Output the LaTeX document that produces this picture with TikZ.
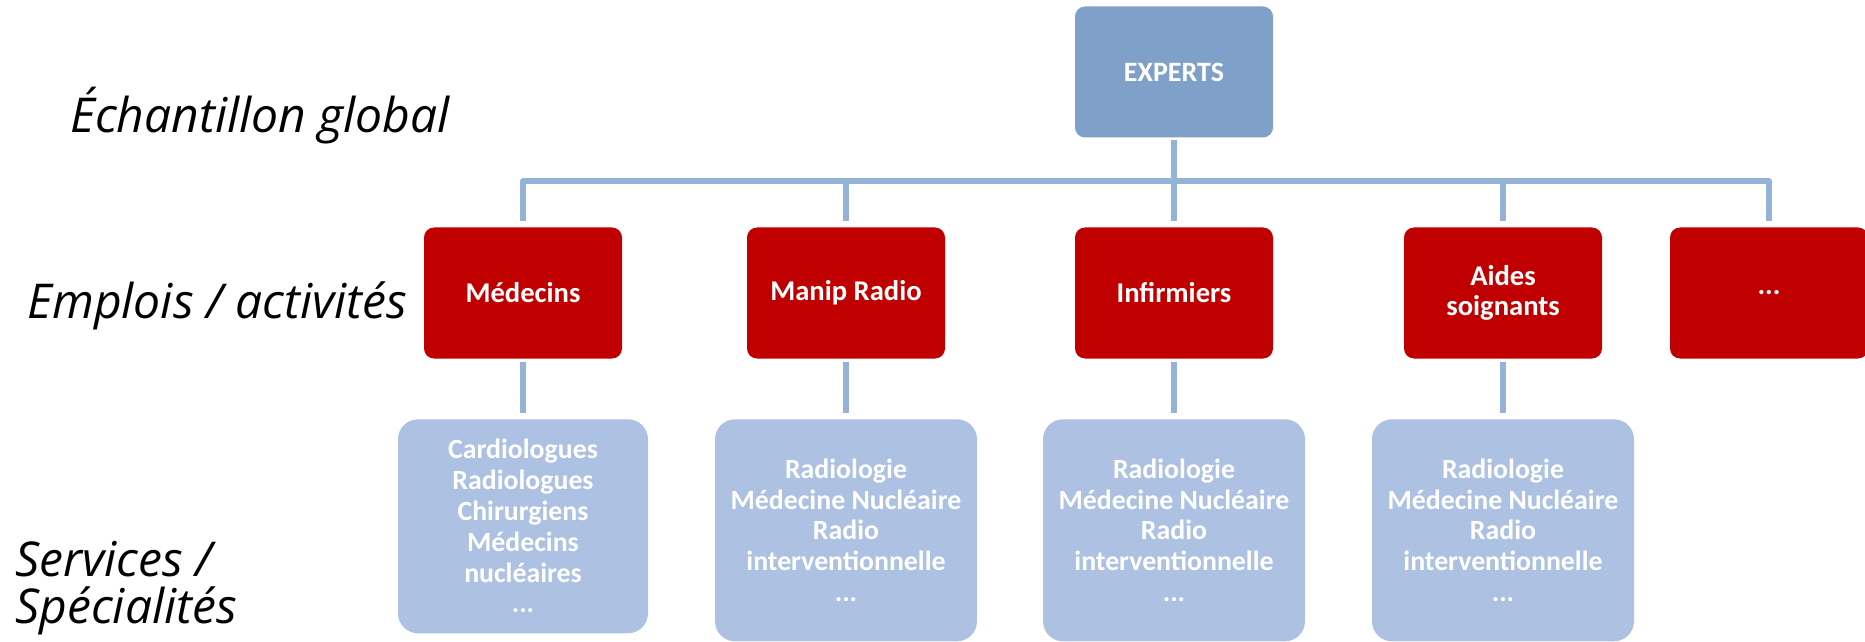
\documentclass[tikz,border=0pt]{standalone}
\usepackage{fontspec}
\setmainfont{Carlito}
\newfontfamily\levelfont{Open Sans}
\usepackage{tikz}
\usetikzlibrary{positioning}

\definecolor{expertblue}{RGB}{127,161,201}
\definecolor{jobred}{RGB}{192,0,0}
\definecolor{serviceblue}{RGB}{173,193,226}
\definecolor{linkblue}{RGB}{149,179,215}

\begin{document}
\begin{tikzpicture}[x=0.5pt, y=-0.5pt]
    \tikzstyle{level} = [font=\levelfont\itshape\fontsize{24}{23.5}\selectfont, inner sep=0pt, anchor=base west, align=left]
    \tikzstyle{expert} = [rectangle, rounded corners=5pt, fill=expertblue, text=white, font=\bfseries\fontsize{14}{15.4}\selectfont, minimum width=99pt, minimum height=65.5pt]
    \tikzstyle{job} = [rectangle, rounded corners=5pt, fill=jobred, text=white, font=\bfseries\fontsize{14.3}{15.2}\selectfont, align=center, minimum width=99pt, minimum height=65.5pt]
    \tikzstyle{service} = [rectangle, rounded corners=10pt, fill=serviceblue, text=white, font=\bfseries\fontsize{13.9}{15.4}\selectfont, align=center, minimum width=131pt, minimum height=111pt]
    \tikzstyle{link} = [draw=linkblue, line width=3pt, line join=round, shorten <=1pt, shorten >=3pt]

    \useasboundingbox (0,0) rectangle (1865,642);

    % Levels
    \node[level] (global) at (70,133) {Échantillon global};
    \node[level] (emplois) at (27,318) {Emplois / activités};
    \node[level] (services) at (15,623) {Services /\\Spécialités};

    % Top
    \node[expert] (experts) at (1174,72) {EXPERTS};

    % Jobs
    \node[job] (medecins) at (523,293) {Médecins};
    \node[job] (manip) at (846,293) {Manip Radio};
    \node[job] (infirmiers) at (1174,293) {Infirmiers};
    \node[job] (aides) at (1503,293) {Aides\\soignants};
    \node[job] (autres) at (1769,293) {...};

    % Services
    \node[service, below=30pt of medecins, minimum width=125pt, minimum height=107pt] (svc_medecins) {Cardiologues\\Radiologues\\Chirurgiens\\Médecins\\nucléaires\\...};
    \node[service, below=30pt of manip] (svc_manip) {Radiologie\\Médecine Nucléaire\\Radio\\interventionnelle\\...};
    \node[service, below=30pt of infirmiers] (svc_infirmiers) {Radiologie\\Médecine Nucléaire\\Radio\\interventionnelle\\...};
    \node[service, below=30pt of aides] (svc_aides) {Radiologie\\Médecine Nucléaire\\Radio\\interventionnelle\\...};

    % Connections
    \draw[link] (experts.south) -- ++(0,43.5) -| (medecins.north);
    \draw[link] (experts.south) -- ++(0,43.5) -| (manip.north);
    \draw[link] (experts.south) -- ++(0,43.5) -| (infirmiers.north);
    \draw[link] (experts.south) -- ++(0,43.5) -| (aides.north);
    \draw[link] (experts.south) -- ++(0,43.5) -| (autres.north);

    \draw[link, shorten <=1.5pt] (medecins) -- (svc_medecins);
    \draw[link, shorten <=1.5pt] (manip) -- (svc_manip);
    \draw[link, shorten <=1.5pt] (infirmiers) -- (svc_infirmiers);
    \draw[link, shorten <=1.5pt] (aides) -- (svc_aides);

\end{tikzpicture}
\end{document}
